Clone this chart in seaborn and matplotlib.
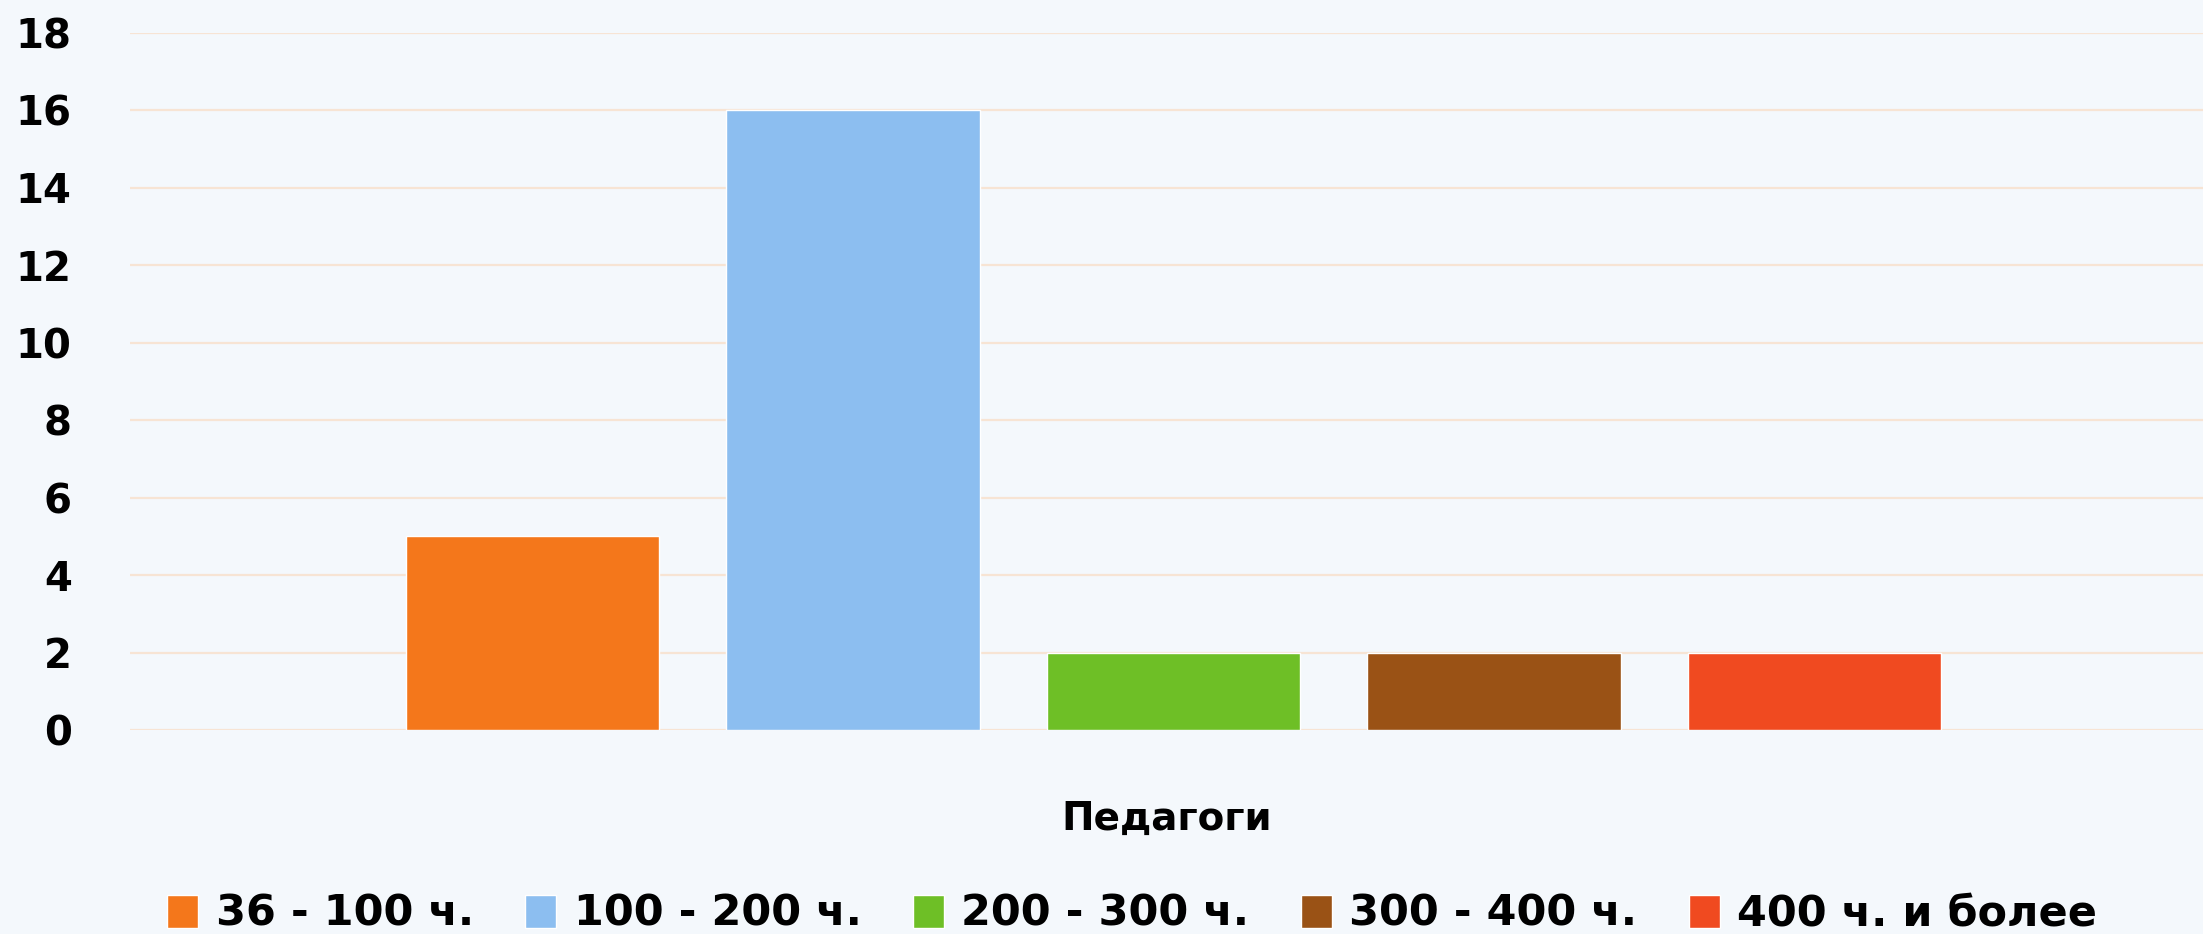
import pandas as pd
import numpy as np
import matplotlib
matplotlib.use("Agg")
import matplotlib.pyplot as plt
import seaborn as sns

# data
category = "Педагоги"
ranges = ["36 - 100 ч.", "100 - 200 ч.", "200 - 300 ч.", "300 - 400 ч.", "400 ч. и более"]
counts = [5, 16, 2, 2, 2]
colors = ["#F4771B", "#8CBEF0", "#6EBF26", "#9A5215", "#F04A20"]
yticks = [0, 2, 4, 6, 8, 10, 12, 14, 16, 18]

df = pd.DataFrame({"group": [category] * len(ranges), "range": ranges, "count": counts})

bg = "#F4F8FC"
grid_col = "#F7E4D4"

sns.set_theme(style="white")
plt.rcParams["font.family"] = ["DejaVu Sans"]
plt.rcParams["font.weight"] = "bold"

fig = plt.figure(figsize=(22.03, 9.34), dpi=100, facecolor=bg)
ax = fig.add_axes([0.059, 0.2184, 0.941, 0.7463])
ax.set_facecolor(bg)

sns.barplot(data=df, x="group", y="count", hue="range", palette=colors,
            width=0.8, gap=0.21, saturation=1, ax=ax, zorder=3)

ax.set_ylim(0, 18)
ax.set_xlim(-0.521, 0.514)
ax.set_yticks(yticks)
ax.set_yticklabels([str(t) for t in yticks], fontsize=29, fontweight="bold", color="black")
ax.tick_params(axis="y", length=0, pad=42)
ax.set_xticks([])
ax.set_ylabel("")
ax.set_xlabel(category, fontsize=28, fontweight="bold", color="black", labelpad=50)
ax.yaxis.grid(True, color=grid_col, linewidth=1.6, zorder=0)
ax.set_axisbelow(True)
for s in ax.spines.values():
    s.set_visible(False)
for lab in ax.get_yticklabels():
    lab.set_horizontalalignment("right")

handles, labels = ax.get_legend_handles_labels()
ax.get_legend().remove()
leg = fig.legend(handles, labels, loc="center", bbox_to_anchor=(0.514, 20 / 934), ncol=5,
                 frameon=False, handlelength=0.72, handleheight=0.8,
                 handletextpad=0.4, columnspacing=1.2, prop={"weight": "bold", "size": 31})
for t in leg.get_texts():
    t.set_color("black")

fig.savefig("out.png", dpi=100, facecolor=bg)
